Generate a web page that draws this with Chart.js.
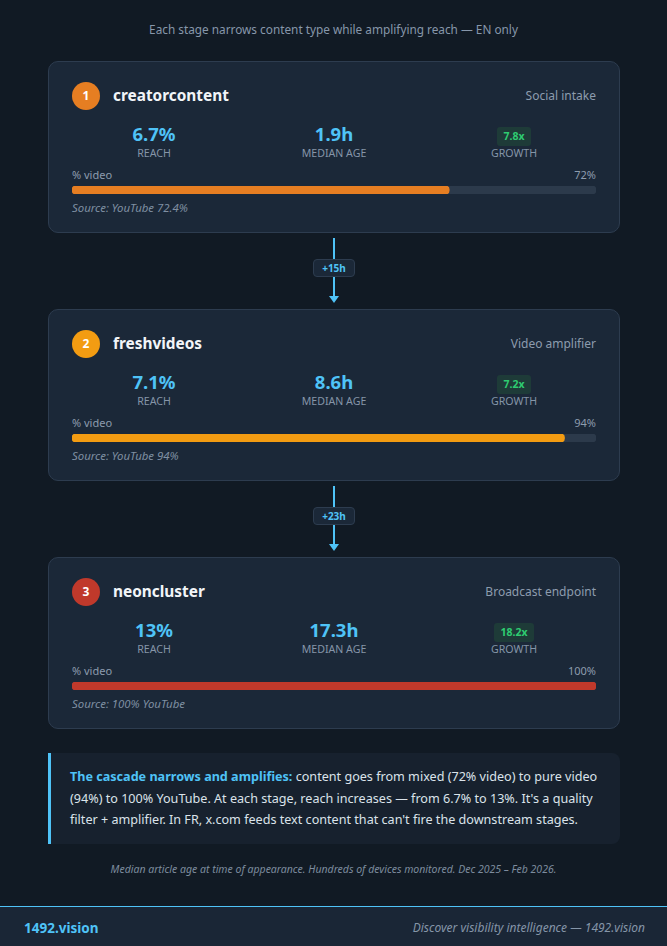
<!DOCTYPE html>
<html>
<head>
<meta charset="utf-8">
<script src="https://cdn.jsdelivr.net/npm/chart.js@4/dist/chart.umd.min.js"></script>
<style>
  html, body { margin: 0; padding: 0; }
  body {
    width: 667px; height: 946px; overflow: hidden; position: relative;
    background: #111a24; color: #e6edf3;
    font-family: "Noto Sans", "Open Sans", sans-serif;
  }
  .caption { position: absolute; top: 21px; left: 0; width: 667px; text-align: center; font-size: 11.8px; color: #8797aa; }
  .card {
    position: absolute; left: 48px; width: 570px; height: 170px;
    background: #1b2838; border: 1px solid #2d3c4f; border-radius: 10px;
  }
  .num {
    position: absolute; left: 23px; top: 20px; width: 28px; height: 28px; border-radius: 50%;
    color: #fff; font-size: 12px; font-weight: 700; text-align: center; line-height: 28px;
  }
  .name { position: absolute; left: 64px; top: 22px; font-size: 15.4px; font-weight: 700; color: #f2f5f8; line-height: 24px; }
  .role { position: absolute; right: 23px; top: 25px; font-size: 12px; color: #8d9cae; line-height: 18px; }
  .stats { position: absolute; left: 23px; top: 60px; width: 524px; display: grid; grid-template-columns: 1fr 1fr 1fr; column-gap: 16px; }
  .stat { text-align: center; }
  .val { font-size: 18.5px; font-weight: 700; color: #4fc3f7; line-height: 24px; height: 24px; }
  .lbl { font-size: 10.6px; color: #8595a8; line-height: 14px; }
  .badge { display: inline-block; margin-top: 5px; padding: 0 6px; height: 19px; line-height: 19px; font-size: 10.5px; font-weight: 700; color: #2ecc71; background: #1e3b38; border-radius: 3px; }
  .bartop { position: absolute; left: 23px; top: 106px; width: 524px; font-size: 11px; color: #8d9cae; line-height: 14px; }
  .bartop span.r { float: right; }
  .barbox { position: absolute; left: 23px; top: 124px; width: 524px; height: 8px; }
  .src { position: absolute; left: 23px; top: 139px; font-size: 11.4px; font-style: italic; color: #7f8fa2; line-height: 14px; }
  .conn { position: absolute; left: 313px; width: 42px; height: 70px; }
  .conn .line { position: absolute; left: 20px; top: 0; width: 2px; height: 60px; background: #4fc3f7; }
  .conn .arrow { position: absolute; left: 16px; top: 58px; width: 0; height: 0; border-left: 5px solid transparent; border-right: 5px solid transparent; border-top: 7px solid #4fc3f7; }
  .conn .tag { position: absolute; left: 0; top: 21px; width: 40px; height: 16px; line-height: 16px; background: #1b2838; border: 1px solid #2d3c4f; border-radius: 4px; text-align: center; font-size: 10px; font-weight: 700; color: #4fc3f7; }
  .insight {
    position: absolute; left: 48px; top: 753px; width: 550px; height: 91px; padding-left: 19px;
    background: #17212e; border-left: 3px solid #4fc3f7; border-radius: 0 8px 8px 0;
    box-sizing: content-box;
  }
  .insight p { margin: 0; padding-top: 13px; font-size: 12.6px; line-height: 21.5px; color: #dbe3ea; }
  .insight b { color: #4fc3f7; }
  .foot { position: absolute; top: 862px; left: 0; width: 667px; text-align: center; font-size: 10.5px; font-style: italic; color: #7d8c9e; }
  .footer { position: absolute; left: 0; top: 906px; width: 667px; height: 40px; background: #1a2636; border-top: 1px solid #4fc3f7; }
  .brand { position: absolute; left: 24px; top: 12px; font-size: 13.5px; font-weight: 700; color: #4fc3f7; }
  .tagline { position: absolute; right: 22px; top: 12px; font-size: 12px; font-style: italic; color: #8595a8; }
</style>
</head>
<body>
<div class="caption">Each stage narrows content type while amplifying reach — EN only</div>
<div id="stages"></div>
<div class="insight"><p><b>The cascade narrows and amplifies:</b><span> content goes from mixed (72% video) to pure video (94%) to 100% YouTube. At each stage, reach increases — from 6.7% to 13%. It's a quality filter + amplifier. In FR, x.com feeds text content that can't fire the downstream stages.</span></p></div>
<div class="foot">Median article age at time of appearance. Hundreds of devices monitored. Dec 2025 – Feb 2026.</div>
<div class="footer"><div class="brand">1492.vision</div><div class="tagline">Discover visibility intelligence — 1492.vision</div></div>

<script>
// stage data
const stageNames = ['creatorcontent', 'freshvideos', 'neoncluster'];
const stageRoles = ['Social intake', 'Video amplifier', 'Broadcast endpoint'];
const reach = ['6.7%', '7.1%', '13%'];
const medianAge = ['1.9h', '8.6h', '17.3h'];
const growth = ['7.8x', '7.2x', '18.2x'];
const videoPct = [72, 94, 100];
const sources = ['Source: YouTube 72.4%', 'Source: YouTube 94%', 'Source: 100% YouTube'];
const stepDelays = ['+15h', '+23h'];

const stageColors = ['#e67e22', '#f39c12', '#c0392b'];
const cardTops = [61, 309, 557];

const root = document.querySelector('#stages');

stageNames.forEach((name, i) => {
    let card = document.createElement('div');
    card.className = 'card';
    card.style.top = cardTops[i] + 'px';
    card.innerHTML =
        '<div class="num" style="background:' + stageColors[i] + '">' + (i + 1) + '</div>' +
        '<div class="name">' + name + '</div>' +
        '<div class="role">' + stageRoles[i] + '</div>' +
        '<div class="stats">' +
            '<div class="stat"><div class="val">' + reach[i] + '</div><div class="lbl">REACH</div></div>' +
            '<div class="stat"><div class="val">' + medianAge[i] + '</div><div class="lbl">MEDIAN AGE</div></div>' +
            '<div class="stat"><div class="badge">' + growth[i] + '</div><div class="lbl">GROWTH</div></div>' +
        '</div>' +
        '<div class="bartop">% video<span class="r">' + videoPct[i] + '%</span></div>' +
        '<div class="barbox"><canvas id="bar' + i + '"></canvas></div>' +
        '<div class="src">' + sources[i] + '</div>';
    root.appendChild(card);

    if (i < stepDelays.length) {
        let conn = document.createElement('div');
        conn.className = 'conn';
        conn.style.top = (cardTops[i] + 172 + 5) + 'px';
        conn.innerHTML = '<div class="line"></div><div class="arrow"></div><div class="tag">' + stepDelays[i] + '</div>';
        root.appendChild(conn);
    }

    // % video bar: value drawn over a full-width track
    new Chart(document.querySelector('#bar' + i).getContext('2d'), {
        type: 'bar',
        data: {
            labels: ['% video'],
            datasets: [{
                data: [videoPct[i]],
                backgroundColor: stageColors[i],
                borderRadius: 4,
                borderSkipped: false,
                grouped: false,
                order: 1
            }, {
                data: [100],
                backgroundColor: '#2c3a4b',
                borderRadius: 4,
                borderSkipped: false,
                grouped: false,
                order: 2
            }]
        },
        options: {
            indexAxis: 'y',
            responsive: true,
            maintainAspectRatio: false,
            animation: false,
            layout: { padding: 0 },
            datasets: { bar: { barPercentage: 1, categoryPercentage: 1 } },
            scales: {
                x: { display: false, min: 0, max: 100 },
                y: { display: false }
            },
            plugins: { legend: { display: false }, tooltip: { enabled: false } }
        }
    });
});
</script>
</body>
</html>
